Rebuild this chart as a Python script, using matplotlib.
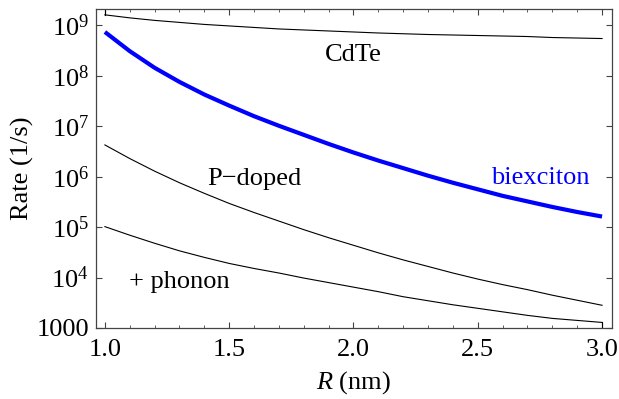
import matplotlib
matplotlib.use("Agg")
import matplotlib.pyplot as plt
import numpy as np
from matplotlib.ticker import FixedLocator, LogLocator, NullFormatter

# Radius R (nm)
radius = [1.0, 1.1, 1.2, 1.3, 1.4, 1.5, 1.6, 1.7, 1.8, 1.9, 2.0,
          2.1, 2.2, 2.3, 2.4, 2.5, 2.6, 2.7, 2.8, 2.9, 3.0]

# log10 of rate (1/s)
log_cdte = [9.21, 9.15, 9.10, 9.06, 9.02, 8.99, 8.96, 8.93, 8.91, 8.89, 8.87,
            8.85, 8.835, 8.82, 8.81, 8.80, 8.79, 8.78, 8.76, 8.75, 8.74]
log_biexciton = [8.87, 8.49, 8.16, 7.88, 7.63, 7.41, 7.20, 7.01, 6.83, 6.65, 6.48,
                 6.32, 6.17, 6.02, 5.88, 5.75, 5.62, 5.51, 5.40, 5.30, 5.21]
log_pdoped = [6.63, 6.36, 6.11, 5.88, 5.67, 5.47, 5.29, 5.12, 4.95, 4.79, 4.64,
              4.49, 4.35, 4.22, 4.09, 3.97, 3.86, 3.76, 3.65, 3.55, 3.45]
log_phonon = [5.01, 4.84, 4.68, 4.53, 4.40, 4.28, 4.18, 4.09, 3.99, 3.90, 3.81,
              3.72, 3.62, 3.54, 3.46, 3.39, 3.32, 3.25, 3.19, 3.15, 3.11]

y_ticks = [1e3, 1e4, 1e5, 1e6, 1e7, 1e8, 1e9]
y_ticklabels = ["1000", "$10^{4}$", "$10^{5}$", "$10^{6}$", "$10^{7}$", "$10^{8}$", "$10^{9}$"]
x_ticks = [1.0, 1.5, 2.0, 2.5, 3.0]
x_limits = (0.964, 3.04)
y_limits = (1e3, 2.1e9)

plt.rcParams["font.family"] = ["Liberation Serif", "DejaVu Serif"]
plt.rcParams["mathtext.fontset"] = "custom"
plt.rcParams["mathtext.rm"] = "Liberation Serif"
plt.rcParams["mathtext.it"] = "Liberation Serif:italic"
plt.rcParams["font.size"] = 19

fig = plt.figure(figsize=(6.19, 3.99), dpi=100)
ax = fig.add_axes([0.155, 0.178, 0.8337, 0.799])

r = np.array(radius)
cdte = 10 ** np.array(log_cdte)
biex = 10 ** np.array(log_biexciton)
pdop = 10 ** np.array(log_pdoped)
phon = 10 ** np.array(log_phonon)

ax.plot(r, cdte, color="black", lw=0.8)
ax.plot(r, pdop, color="black", lw=0.8)
ax.plot(r, phon, color="black", lw=0.8)
ax.plot(r, biex, color="#0000ff", lw=3.0, solid_capstyle="butt")

# small vertical end segments drawn by the original plot
ax.plot([r[0], r[0]], [cdte[0], y_limits[1]], color="black", lw=0.8)
ax.plot([r[-1], r[-1]], [phon[-1], y_limits[0]], color="black", lw=0.8)

ax.set_yscale("log")
ax.set_xlim(*x_limits)
ax.set_ylim(*y_limits)

ax.yaxis.set_major_locator(FixedLocator(y_ticks))
ax.set_yticklabels(y_ticklabels)
ax.yaxis.set_minor_locator(LogLocator(base=10, subs=np.arange(2, 10)))
ax.yaxis.set_minor_formatter(NullFormatter())
ax.set_xticks(x_ticks)
ax.set_xticklabels([f"{v:.1f}" for v in x_ticks])
ax.set_xticks(np.arange(1.0, 3.01, 0.1), minor=True)

ax.tick_params(which="both", direction="in", top=True, right=True, color="#444444")
ax.tick_params(which="major", length=4.5, width=0.8, pad=5)
ax.tick_params(axis="x", which="major", pad=8)
ax.tick_params(which="minor", length=2.2, width=0.6)
for s in ax.spines.values():
    s.set_color("#444444")
    s.set_linewidth(0.9)

ax.set_xlabel("$\\mathit{R}$ (nm)", labelpad=6)
ax.set_ylabel("Rate (1/s)", labelpad=2)

ax.text(2.0, 10 ** 8.42, "CdTe", ha="center", va="center")
ax.text(2.75, 10 ** 5.98, "biexciton", ha="center", va="center", color="#0000ff")
ax.text(1.60, 10 ** 5.95, "P\u2212doped", ha="center", va="center")
ax.text(1.30, 10 ** 3.92, "+ phonon", ha="center", va="center")

fig.savefig("out.png", dpi=100)
